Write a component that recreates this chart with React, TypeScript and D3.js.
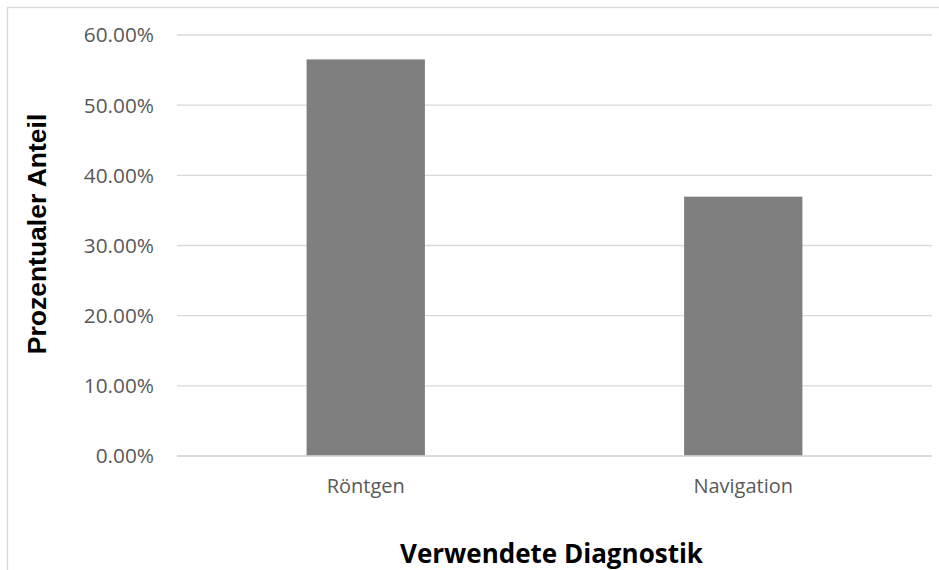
import React from "react";
import * as d3 from "d3";

const categories: string[] = ["Röntgen", "Navigation"];
const shares: number[] = [0.5652, 0.3696];
const yTicks: number[] = [0, 0.1, 0.2, 0.3, 0.4, 0.5, 0.6];
const xAxisTitle = "Verwendete Diagnostik";
const yAxisTitle = "Prozentualer Anteil";

const W = 939;
const H = 570;
const plot = { left: 177, right: 932, top: 35, bottom: 456 };
const gapWidth = 2.19;

const labelFont = "'Open Sans', 'Noto Sans', sans-serif";

export default function App() {
  const x = d3
    .scaleBand<string>()
    .domain(categories)
    .range([plot.left, plot.right])
    .padding(0);
  const y = d3.scaleLinear().domain([0, 0.6]).range([plot.bottom, plot.top]);
  const barW = x.bandwidth() / (1 + gapWidth);
  const fmt = (v: number) => (v * 100).toFixed(2) + "%";

  return (
    <svg
      width={W}
      height={H}
      style={{ position: "absolute", left: 0, top: 0, background: "#fff" }}
    >
      <rect
        x={7.5}
        y={7.5}
        width={W + 10}
        height={H + 10}
        fill="#fff"
        stroke="#d9d9d9"
        strokeWidth={1.3}
      />
      {yTicks.map((t) => (
        <g key={t}>
          <line
            x1={plot.left}
            x2={plot.right}
            y1={y(t)}
            y2={y(t)}
            stroke="#d9d9d9"
            strokeWidth={1.3}
          />
          <text
            x={154}
            y={y(t)}
            dy="0.36em"
            textAnchor="end"
            fontFamily={labelFont}
            fontSize={20.8}
            fill="#595959"
          >
            {fmt(t)}
          </text>
        </g>
      ))}
      {categories.map((c, i) => {
        const bx = (x(c) as number) + (x.bandwidth() - barW) / 2;
        return (
          <g key={c}>
            <rect
              x={bx}
              y={y(shares[i])}
              width={barW}
              height={y(0) - y(shares[i])}
              fill="#7f7f7f"
            />
            <text
              x={(x(c) as number) + x.bandwidth() / 2}
              y={493}
              textAnchor="middle"
              fontFamily={labelFont}
              fontSize={20}
              fill="#595959"
            >
              {c}
            </text>
          </g>
        );
      })}
      <line
        x1={plot.left}
        x2={plot.right}
        y1={y(0)}
        y2={y(0)}
        stroke="#d9d9d9"
        strokeWidth={1.3}
      />
      <text
        x={(plot.left + plot.right) / 2 - 3}
        y={563}
        textAnchor="middle"
        fontFamily={labelFont}
        fontWeight="bold"
        fontSize={26}
        fill="#000"
      >
        {xAxisTitle}
      </text>
      <text
        transform={`translate(46, 234) rotate(-90)`}
        textAnchor="middle"
        fontFamily="'Liberation Sans', Arial, sans-serif"
        fontWeight="bold"
        fontSize={26.5}
        fill="#000"
      >
        {yAxisTitle}
      </text>
    </svg>
  );
}
